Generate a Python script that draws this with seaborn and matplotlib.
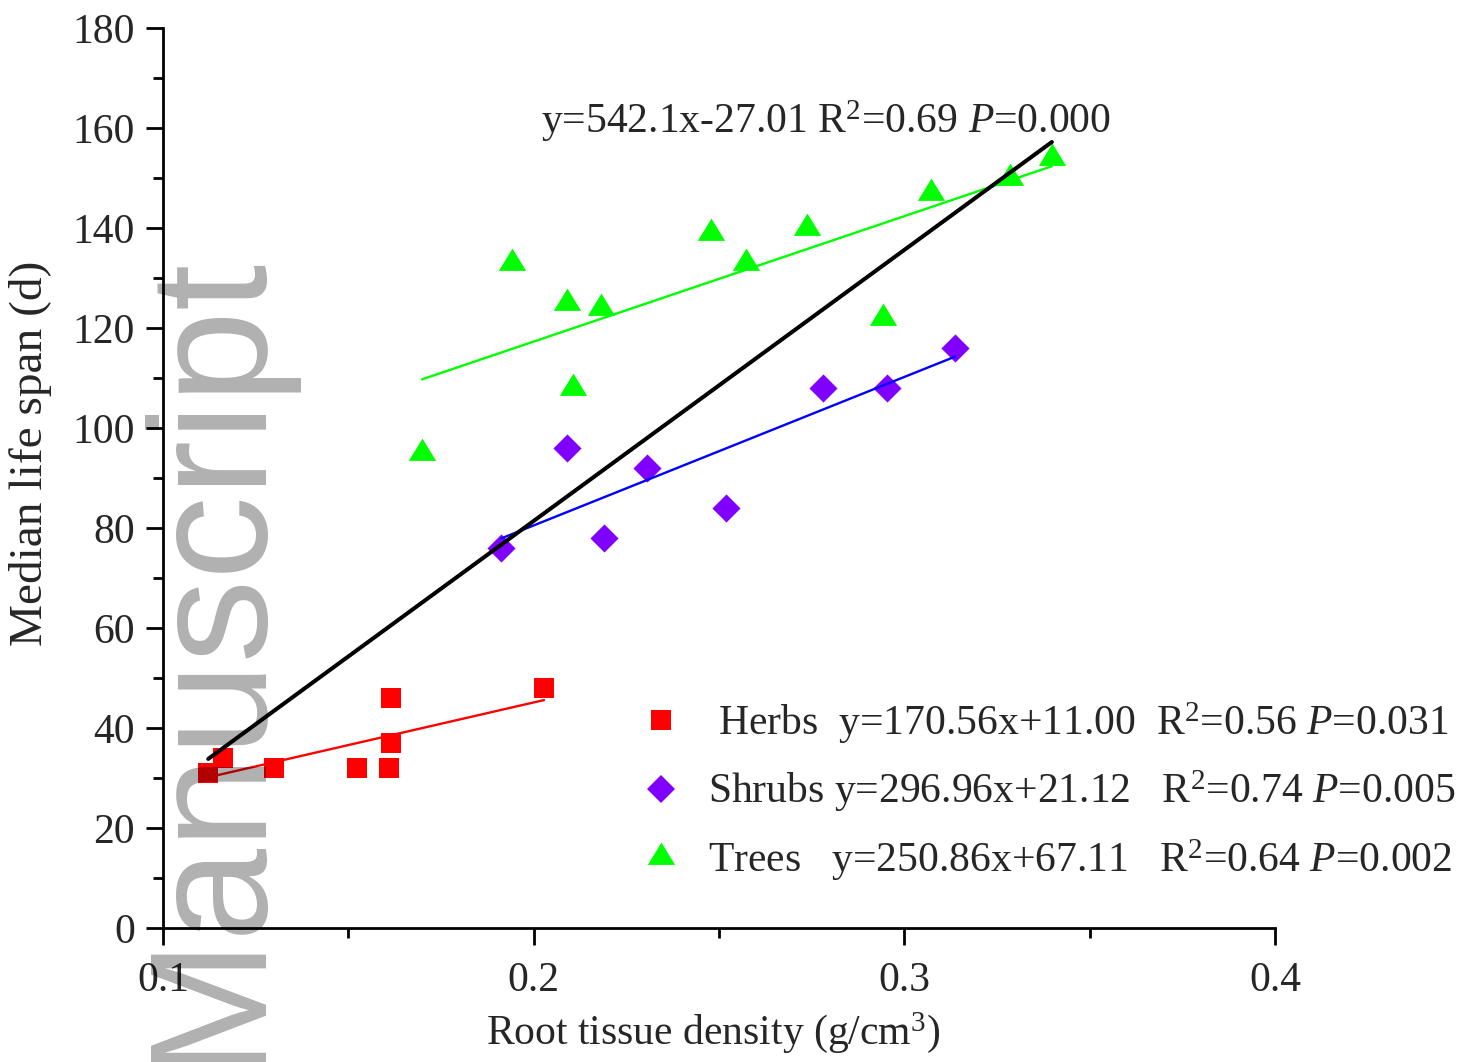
import numpy as np
import pandas as pd
import matplotlib
matplotlib.use("Agg")
import matplotlib.pyplot as plt
from matplotlib.lines import Line2D
import seaborn as sns

# ---------------- data ----------------
herb_x = [0.1122, 0.1163, 0.1300, 0.1524, 0.1609, 0.1615, 0.1615, 0.2028]
herb_y = [31, 34, 32, 32, 32, 37, 46, 48]
shrub_x = [0.1913, 0.2091, 0.2189, 0.2306, 0.2518, 0.2781, 0.2953, 0.3137]
shrub_y = [76, 96, 78, 92, 84, 108, 108, 116]
tree_x = [0.1699, 0.1941, 0.2089, 0.2106, 0.2183, 0.2478, 0.2573, 0.2737,
          0.2942, 0.3072, 0.3285, 0.3398]
tree_y = [95, 133, 125, 108, 124, 139, 133, 140, 122, 147, 150, 154]

groups = ["Herbs", "Shrubs", "Trees"]
slopes = {"Herbs": 170.56, "Shrubs": 296.96, "Trees": 250.86, "All": 542.1}
intercepts = {"Herbs": 11.00, "Shrubs": 21.12, "Trees": 67.11, "All": -27.01}
r2 = {"Herbs": "0.56", "Shrubs": "0.74", "Trees": "0.64", "All": "0.69"}
pvals = {"Herbs": "0.031", "Shrubs": "0.005", "Trees": "0.002", "All": "0.000"}

x_ticks = [0.1, 0.2, 0.3, 0.4]
y_ticks = list(range(0, 181, 20))

df = pd.concat([
    pd.DataFrame({"x": herb_x, "y": herb_y, "group": "Herbs"}),
    pd.DataFrame({"x": shrub_x, "y": shrub_y, "group": "Shrubs"}),
    pd.DataFrame({"x": tree_x, "y": tree_y, "group": "Trees"}),
], ignore_index=True)

# ---------------- style ----------------
sns.set_style("ticks")
plt.rcParams["font.family"] = ["Liberation Serif", "DejaVu Serif"]
plt.rcParams["mathtext.fontset"] = "custom"
plt.rcParams["mathtext.rm"] = "Liberation Serif"
plt.rcParams["mathtext.it"] = "Liberation Serif:italic"
plt.rcParams["mathtext.bf"] = "Liberation Serif:bold"

FS = 30
tri = [(0, 14.7), (-13.5, -7.3), (13.5, -7.3)]
marker_map = {"Herbs": "s", "Shrubs": "D", "Trees": tri}
size_map = {"Herbs": 220, "Shrubs": 205, "Trees": 460}
color_map = {"Herbs": "#FF0000", "Shrubs": "#8000FF", "Trees": "#00FF00"}
line_color = {"Herbs": "#FF0000", "Shrubs": "#0000FF", "Trees": "#00FF00", "All": "#000000"}

W, H = 1468, 1062
fig = plt.figure(figsize=(W / 100, H / 100), dpi=100)
ax = fig.add_axes([163 / W, 1 - 928 / H, 1112 / W, 900 / H])

for g in groups:
    sub = df[df.group == g]
    sns.scatterplot(data=sub, x="x", y="y", marker=marker_map[g], s=size_map[g],
                    color=color_map[g], linewidth=0, ax=ax, legend=False, zorder=3)

# regression lines (published equations over each group's data range)
for g in groups + ["All"]:
    sub = df if g == "All" else df[df.group == g]
    xs = np.array([sub.x.min(), sub.x.max()])
    ys = slopes[g] * xs + intercepts[g]
    ax.plot(xs, ys, color=line_color[g], lw=2.9 if g == "All" else 1.7,
            zorder=4, solid_capstyle="round")

ax.set_xlim(0.1, 0.4)
ax.set_ylim(0, 180)
ax.set_xticks(x_ticks)
ax.set_xticklabels([f"{v:.1f}" for v in x_ticks])
ax.set_yticks(y_ticks)
ax.set_yticklabels([str(v) for v in y_ticks])
ax.set_xticks([0.15, 0.25, 0.35], minor=True)
ax.set_yticks(list(range(10, 180, 20)), minor=True)
sns.despine(ax=ax)
for sp in ["left", "bottom"]:
    ax.spines[sp].set_linewidth(2.0)
    ax.spines[sp].set_color("black")
ax.tick_params(which="major", direction="out", length=12, width=2.0,
               labelsize=FS, color="black")
ax.tick_params(axis="y", which="major", pad=8)
ax.tick_params(axis="x", which="major", pad=12)
ax.tick_params(which="minor", direction="out", length=7, width=2.0, color="black")

ax.set_xlabel("Root tissue density (g/cm$^3$)", fontsize=FS)
ax.xaxis.set_label_coords((713 - 163) / 1112, -(1010 - 928) / 900)
ax.set_ylabel("Median life span (d)", fontsize=FS + 4)
ax.yaxis.set_label_coords((52 - 163) / 1112, (928 - 453) / 900)

ax.text(0.1 + (541 - 163) / 3706.7, 158.9,
        f"y={slopes['All']}x{intercepts['All']:.2f} R$^2$={r2['All']} $P$={pvals['All']}",
        fontsize=FS, ha="left", va="baseline", zorder=5)

handles = [Line2D([], [], linestyle="None", marker=marker_map[g], color=color_map[g],
                  markersize=np.sqrt(size_map[g]), markeredgewidth=0) for g in groups]
labels = [
    f" Herbs  y={slopes['Herbs']:.2f}x+{intercepts['Herbs']:.2f}  R$^2$={r2['Herbs']} $P$={pvals['Herbs']}",
    f"Shrubs y={slopes['Shrubs']:.2f}x+{intercepts['Shrubs']:.2f}   R$^2$={r2['Shrubs']} $P$={pvals['Shrubs']}",
    f"Trees   y={slopes['Trees']:.2f}x+{intercepts['Trees']:.2f}   R$^2$={r2['Trees']} $P$={pvals['Trees']}",
]
leg = ax.legend(handles, labels, loc="upper left", bbox_to_anchor=(640 / W, 1 - 700 / H),
                bbox_transform=fig.transFigure, frameon=False, fontsize=FS,
                handlelength=1.0, handletextpad=0.62, labelspacing=0.54, borderpad=0,
                borderaxespad=0)

# watermark, fitted to span y = 262..1058 px (from top)
wm = fig.text(0.2, 0.0, "Manuscript", rotation=90, rotation_mode="anchor",
              ha="left", va="baseline", fontsize=121, family="Liberation Sans",
              color="black", alpha=0.31, zorder=10)
fig.canvas.draw()
r = fig.canvas.get_renderer()
bb = wm.get_window_extent(r)
wm.set_fontsize(121 * 816 / bb.height)
fig.canvas.draw()
bb = wm.get_window_extent(r)
dx = 288 - bb.x1
dy = (H - 1066) - bb.y0
x0, y0 = wm.get_position()
wm.set_position((x0 + dx / W, y0 + dy / H))

fig.savefig("out.png", dpi=100)
